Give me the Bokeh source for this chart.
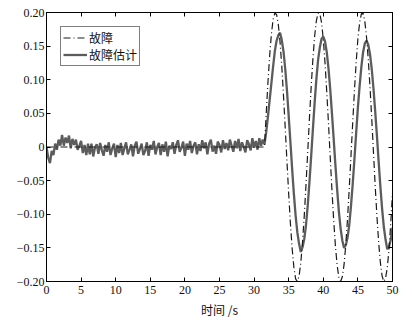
from bokeh.plotting import figure
from bokeh.models import (Range1d, LinearAxis, FixedTicker, CustomJSTickFormatter,
                          Legend, LegendItem)
from bokeh.embed import file_html
from bokeh.resources import INLINE

# ---------------- data ----------------
x_ticks = [0, 5, 10, 15, 20, 25, 30, 35, 40, 45, 50]
y_ticks = [-0.20, -0.15, -0.10, -0.05, 0.0, 0.05, 0.10, 0.15, 0.20]

# fault signal: zero until 31.5 s, then oscillation (samples every 0.25 s)
fault_t = [0.0] + [31.5 + 0.25 * k for k in range(75)]
fault_y = [0.0,
           0.000, 0.049, 0.096, 0.136, 0.168, 0.190, 0.199, 0.197, 0.182, 0.156,
           0.120, 0.076, 0.028, -0.022, -0.070, -0.114, -0.151, -0.179, -0.196, -0.200,
           -0.192, -0.172, -0.141, -0.102, -0.056, -0.007, 0.043, 0.090, 0.131, 0.165,
           0.188, 0.199, 0.198, 0.185, 0.160, 0.125, 0.082, 0.035, -0.015, -0.064,
           -0.109, -0.147, -0.176, -0.194, -0.200, -0.193, -0.175, -0.145, -0.107, -0.062,
           -0.013, 0.036, 0.084, 0.126, 0.161, 0.185, 0.198, 0.199, 0.187, 0.163,
           0.130, 0.089, 0.042, -0.008, -0.058, -0.103, -0.142, -0.172, -0.192, -0.200,
           -0.195, -0.179, -0.152, -0.113, -0.068]

# fault estimate (noisy), samples every 0.25 s from 0 to 50 s
est_y = [
    # 0 - 2
    0.000, -0.016, -0.024, -0.006, -0.012, 0.005, -0.004, 0.011, 0.002,
    # 2.25 - 4
    0.018, 0.002, 0.014, 0.006, 0.017, -0.002, 0.012, 0.003,
    # 4.25 - 6
    0.011, -0.004, 0.002, 0.009, -0.009, 0.003, -0.012, 0.005,
    # 6.25 - 10
    -0.011, 0.005, -0.014, -0.001, 0.004, -0.010, 0.006, -0.005,
    -0.013, 0.003, -0.007, 0.007, -0.012, -0.002, 0.005, -0.015,
    # 10.25 - 14
    0.003, -0.009, 0.006, -0.012, -0.002, 0.007, -0.011, -0.004,
    0.004, -0.014, 0.002, 0.008, -0.010, -0.003, 0.005, -0.012,
    # 14.25 - 18
    -0.006, 0.007, -0.013, 0.003, -0.004, 0.009, -0.011, 0.000,
    0.006, -0.012, 0.004, -0.007, 0.008, -0.014, 0.002, -0.003,
    # 18.25 - 22
    0.007, -0.010, 0.003, 0.010, -0.007, -0.001, 0.008, -0.013,
    0.005, -0.004, 0.009, -0.009, 0.002, 0.007, -0.011, 0.004,
    # 22.25 - 26
    -0.006, 0.010, -0.002, 0.007, -0.011, 0.005, 0.011, -0.007,
    0.002, -0.010, 0.008, 0.003, -0.008, 0.010, -0.003, 0.006,
    # 26.25 - 30
    -0.005, 0.011, 0.002, -0.007, 0.009, -0.002, 0.012, -0.006,
    0.007, 0.000, -0.008, 0.010, 0.004, -0.005, 0.013, -0.001,
    # 30.25 - 32
    0.009, -0.004, 0.013, 0.002, 0.011, 0.004, 0.022, 0.045,
    # 32.25 - 34
    0.070, 0.095, 0.120, 0.143, 0.158, 0.166, 0.170, 0.159,
    # 34.25 - 36
    0.142, 0.116, 0.084, 0.046, 0.007, -0.033, -0.070, -0.102,
    # 36.25 - 38
    -0.127, -0.144, -0.156, -0.149, -0.137, -0.116, -0.087, -0.052,
    # 38.25 - 40
    -0.013, 0.027, 0.066, 0.101, 0.130, 0.148, 0.161, 0.164,
    # 40.25 - 42
    0.157, 0.141, 0.117, 0.086, 0.050, 0.012, -0.027, -0.063,
    # 42.25 - 44
    -0.096, -0.121, -0.139, -0.150, -0.146, -0.135, -0.116, -0.088,
    # 44.25 - 46
    -0.055, -0.018, 0.021, 0.059, 0.091, 0.119, 0.141, 0.154,
    # 46.25 - 48
    0.158, 0.152, 0.138, 0.116, 0.087, 0.053, 0.017, -0.022,
    # 48.25 - 50
    -0.059, -0.092, -0.119, -0.138, -0.152, -0.148, -0.138, -0.120,
]
est_t = [0.25 * i for i in range(len(est_y))]

labels = ["故障", "故障估计"]
x_label = "时间 /s"

# ---------------- figure ----------------
p = figure(width=404, height=320, output_backend="svg", toolbar_location=None,
           x_range=Range1d(0, 50), y_range=Range1d(-0.2, 0.2),
           min_border_left=46, min_border_right=12, min_border_top=12, min_border_bottom=34,
           x_axis_location=None, y_axis_location=None)
p.grid.visible = False
p.outline_line_color = "black"
p.outline_line_width = 1
p.background_fill_color = "white"
p.border_fill_color = "white"

r_est = p.line(est_t, est_y, line_color="#5c5c5c", line_width=2.3)
r_fault = p.line(fault_t, fault_y, line_color="#1a1a1a", line_width=1.2, line_dash="7 3 1 3")

serif = "Liberation Serif"
cjk = "Noto Sans CJK SC"

def style_axis(ax, ticks, show_labels):
    ax.ticker = FixedTicker(ticks=ticks)
    ax.major_tick_in = 4
    ax.major_tick_out = 0
    ax.minor_tick_line_color = None
    ax.axis_line_color = "black"
    ax.major_tick_line_color = "black"
    ax.major_label_text_font = serif
    ax.major_label_text_font_size = "12px"
    ax.major_label_text_color = "#111111"
    if not show_labels:
        ax.formatter = CustomJSTickFormatter(code='return "";')
        ax.major_label_standoff = 0

xb = LinearAxis()
style_axis(xb, x_ticks, True)
xb.major_label_standoff = 4
xb.axis_label = x_label
xb.axis_label_text_font = cjk
xb.axis_label_text_font_size = "12px"
xb.axis_label_text_font_style = "normal"
xb.axis_label_text_color = "#111111"
xb.axis_label_standoff = 4
p.add_layout(xb, "below")

yl = LinearAxis()
style_axis(yl, y_ticks, True)
yl.major_label_standoff = 2
yl.formatter = CustomJSTickFormatter(code="""
if (Math.abs(tick) < 1e-9) { return "0"; }
const s = Math.abs(tick).toFixed(2);
return tick < 0 ? "\u2212" + s : s;
""")
p.add_layout(yl, "left")

xt = LinearAxis()
style_axis(xt, x_ticks, False)
p.add_layout(xt, "above")

yr = LinearAxis()
style_axis(yr, y_ticks, False)
p.add_layout(yr, "right")

legend = Legend(items=[LegendItem(label=labels[0], renderers=[r_fault]),
                       LegendItem(label=labels[1], renderers=[r_est])],
                location="top_left")
legend.margin = 14
legend.padding = 2
legend.spacing = 0
legend.glyph_width = 24
legend.glyph_height = 11
legend.label_height = 11
legend.label_standoff = 2
legend.label_text_font = cjk
legend.label_text_font_size = "12px"
legend.label_text_color = "#111111"
legend.border_line_color = "black"
legend.border_line_width = 1
legend.background_fill_color = "white"
legend.background_fill_alpha = 1.0
p.add_layout(legend, "center")

open("out.html", "w").write(file_html(p, INLINE))
